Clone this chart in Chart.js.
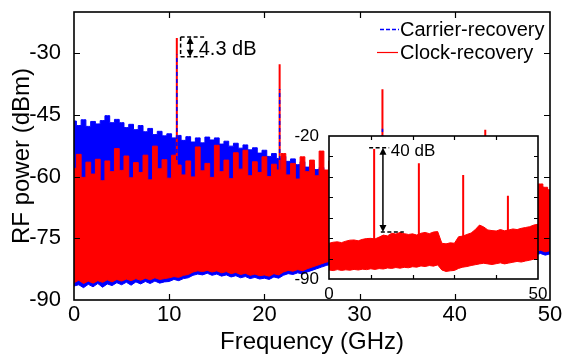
<!DOCTYPE html>
<html>
<head>
<meta charset="utf-8">
<script src="https://cdn.jsdelivr.net/npm/chart.js@4.4.0/dist/chart.umd.min.js"></script>
<style>
  html, body { margin: 0; padding: 0; background: #fff; }
  #wrap { position: relative; width: 566px; height: 354px; }
  #main { position: absolute; left: 0; top: 0; }
  #inset { position: absolute; left: 290px; top: 120px; }
</style>
</head>
<body>
<div id="wrap">
  <canvas id="main" width="566" height="354"></canvas>
  <canvas id="inset" width="260" height="185"></canvas>
</div>
<script>
// main plot, band edges read every 0.5 GHz (0..50)
const blueUpper = [
  -46.5,-47.6,-46.2,-47.8,-46.6,-47.2,-46.4,-45.2,-46.9,-46.1,
  -46.9,-48.1,-47.3,-48.6,-47.6,-49.1,-48.3,-49.8,-49.0,-50.1,
  -49.6,-50.6,-50.0,-51.2,-50.3,-51.6,-50.6,-51.8,-50.4,-51.1,
  -50.6,-52.1,-51.4,-52.6,-51.9,-53.1,-52.3,-53.5,-53.0,-54.3,
  -53.6,-55.1,-54.4,-55.6,-55.1,-56.3,-55.7,-57.1,-56.4,-57.7,
  -57.0,-58.3,-57.8,-59.1,-58.6,-59.5,-59.0,-60.0,-59.5,-60.2,
  -59.8,-60.5,-60.0,-60.8,-60.3,-61.0,-60.5,-61.2,-60.8,-61.4,
  -61.0,-61.5,-61.2,-61.8,-61.3,-62.0,-61.5,-62.0,-61.6,-62.2,
  -61.8,-62.0,-61.5,-62.0,-61.8,-61.5,-61.7,-61.5,-61.3,-61.6,
  -61.2,-61.6,-61.0,-61.4,-61.0,-61.3,-61.5,-62.8,-62.4,-63.0,-63.5
];
const blueLower = [
  -86.6,-86.3,-87.0,-86.2,-86.8,-86.0,-86.9,-86.1,-86.5,-85.8,
  -86.3,-85.7,-86.4,-85.6,-86.1,-85.5,-86.0,-85.4,-85.9,-85.6,
  -85.5,-85.0,-85.3,-84.8,-84.6,-84.0,-83.7,-83.9,-83.5,-84.0,
  -83.7,-84.2,-83.9,-84.4,-84.1,-84.6,-84.3,-84.8,-84.5,-84.9,
  -84.7,-85.0,-84.4,-84.7,-84.0,-83.6,-83.8,-83.4,-83.7,-83.2,
  -82.8,-82.4,-82.0,-81.6,-81.3,-81.7,-81.4,-81.8,-81.5,-81.7,
  -81.3,-81.6,-81.2,-81.4,-81.0,-81.3,-80.9,-81.2,-80.8,-81.1,
  -80.7,-81.0,-80.6,-80.9,-80.5,-80.8,-80.4,-80.7,-80.3,-80.6,
  -80.2,-80.5,-80.1,-80.4,-80.0,-80.3,-79.9,-80.2,-79.8,-80.1,
  -79.7,-80.0,-79.6,-79.9,-79.5,-79.8,-79.4,-79.0,-78.7,-79.1,-78.8
];
const redUpper = [
  -58.0,-54.6,-60.2,-56.5,-59.4,-55.8,-61.0,-56.2,-58.8,-53.2,
  -58.5,-55.0,-60.3,-56.6,-59.0,-54.8,-60.8,-52.6,-58.1,-55.9,
  -60.4,-54.8,-57.2,-59.6,-56.2,-60.1,-52.8,-58.6,-56.8,-60.2,
  -52.4,-58.8,-56.0,-60.5,-54.2,-58.2,-53.6,-59.8,-56.4,-59.0,
  -55.2,-60.0,-57.0,-58.4,-54.4,-59.6,-56.8,-60.6,-55.2,-58.8,
  -56.0,-59.8,-53.8,-58.4,-56.2,-60.5,-59.5,-61.5,-60.2,-61.8,
  -60.5,-62.0,-61.0,-62.2,-61.3,-62.5,-61.5,-62.4,-61.8,-62.6,
  -62.0,-62.8,-62.2,-63.0,-62.4,-63.2,-62.6,-63.0,-62.4,-63.1,
  -62.6,-63.0,-62.4,-62.9,-62.5,-63.0,-62.6,-62.8,-62.3,-62.9,
  -62.5,-62.8,-62.4,-62.7,-62.3,-62.6,-62.2,-62.3,-61.8,-62.6,-63.2
];
const redLower = [
  -85.8,-85.2,-86.0,-85.4,-85.9,-85.3,-85.7,-85.1,-85.6,-85.0,
  -85.4,-84.9,-85.3,-84.8,-85.2,-84.7,-85.1,-84.6,-85.0,-84.8,
  -84.6,-84.3,-84.5,-84.0,-83.8,-83.2,-82.9,-83.1,-82.8,-83.2,
  -82.9,-83.4,-83.1,-83.6,-83.3,-83.8,-83.5,-84.0,-83.7,-84.1,
  -83.9,-84.2,-83.6,-83.9,-83.2,-82.8,-83.0,-82.6,-82.9,-82.4,
  -82.0,-81.6,-81.2,-80.8,-80.5,-80.9,-80.6,-81.0,-80.7,-80.9,
  -80.5,-80.8,-80.4,-80.6,-80.2,-80.5,-80.1,-80.4,-80.0,-80.3,
  -79.9,-80.2,-79.8,-80.1,-79.7,-80.0,-79.6,-79.9,-79.5,-79.8,
  -79.4,-79.7,-79.3,-79.6,-79.2,-79.5,-79.1,-79.4,-79.0,-79.3,
  -78.9,-79.2,-78.8,-79.1,-78.7,-79.0,-78.6,-78.2,-77.9,-78.3,-78.0
];
const mainFreq = redUpper.map((v, i) => i * 0.5);

// tones on top of the noise
const redToneFreq = [10.8, 21.6, 32.4, 43.2];
const redToneTop = [-26.3, -32.7, -38.8, -48.6];
const blueToneFreq = [10.8, 21.6, 32.4];
const blueToneTop = [-30.3, -38.7, -48.4];
const redToneBase = -80;
const blueToneBase = -56;

// inset (clock recovery only), every 1 GHz
const insetUpper = [
  -72.5,-72.0,-71.8,-72.2,-71.5,-71.0,-70.9,-71.3,-70.6,-70.2,
  -70.1,-70.4,-69.5,-68.5,-68.9,-67.6,-68.0,-67.2,-67.8,-68.2,
  -67.9,-68.5,-67.6,-67.2,-67.8,-67.0,-66.8,-72.5,-72.8,-72.3,
  -72.5,-69.3,-69.0,-68.2,-67.5,-65.8,-63.6,-64.5,-66.0,-66.3,
  -66.5,-65.8,-66.4,-66.0,-65.5,-65.8,-65.2,-64.8,-64.4,-63.6,-63.2
];
const insetLower = [
  -85.6,-85.9,-85.4,-85.8,-85.5,-85.7,-85.3,-85.6,-85.2,-85.4,
  -85.0,-85.3,-84.9,-85.1,-84.6,-84.8,-84.4,-84.7,-84.3,-84.5,
  -84.0,-84.2,-83.6,-83.9,-83.4,-83.7,-83.1,-85.6,-86.3,-86.0,
  -85.8,-84.8,-84.2,-83.9,-83.4,-83.0,-82.6,-82.3,-82.6,-82.9,
  -82.5,-82.1,-82.6,-82.2,-81.8,-81.4,-81.7,-81.2,-80.8,-80.3,-79.9
];
const insetFreq = insetUpper.map((v, i) => i);
const insetToneFreq = [10.8, 21.5, 32.1, 42.8];
const insetToneTop = [-26.4, -33.4, -39.1, -49.2];

// ticks
const xTicks = [0, 10, 20, 30, 40, 50];
const yTicks = [-90, -75, -60, -45, -30];
const insetXTicks = [0, 50];
const insetYTicks = [-90, -20];
const insetXMarks = [10, 20, 30, 40];
const insetYMarks = [-30, -40, -50, -60, -70, -80];

const legendLabels = ['Carrier-recovery', 'Clock-recovery'];
const BLUE = '#0000ff';
const RED = '#ff0000';
const FONT = 'Liberation Sans, Arial, sans-serif';

function pts(xs, ys) {
  return xs.map((x, i) => ({ x: x, y: ys[i] }));
}
function tones(xs, tops, base) {
  const out = [];
  xs.forEach((x, i) => {
    out.push({ x: x, y: base }, { x: x, y: tops[i] }, { x: x, y: null });
  });
  return out;
}
// stop Chart.js from reserving room for labels that are not at the ends
function noPad(s) {
  s.paddingTop = 0; s.paddingBottom = 0;
  s.paddingLeft = 0; s.paddingRight = 0;
}

const framePlugin = {
  id: 'frame',
  beforeDraw(chart, args, opts) {
    if (!opts.white) return;
    const a = chart.chartArea, ctx = chart.ctx;
    ctx.save();
    ctx.fillStyle = '#fff';
    ctx.fillRect(a.left, a.top, a.right - a.left, a.bottom - a.top);
    ctx.restore();
  },
  afterDraw(chart, args, opts) {
    const a = chart.chartArea, ctx = chart.ctx;
    const xs = chart.scales.x, ys = chart.scales.y;
    ctx.save();
    ctx.strokeStyle = '#000';
    ctx.lineWidth = 1.2;
    ctx.beginPath();
    opts.xMarks.forEach(v => {
      const px = Math.round(xs.getPixelForValue(v)) + 0.5;
      ctx.moveTo(px, a.bottom); ctx.lineTo(px, a.bottom - opts.len);
      ctx.moveTo(px, a.top); ctx.lineTo(px, a.top + opts.len);
    });
    opts.yMarks.forEach(v => {
      const py = Math.round(ys.getPixelForValue(v)) + 0.5;
      ctx.moveTo(a.left, py); ctx.lineTo(a.left + opts.len, py);
      ctx.moveTo(a.right, py); ctx.lineTo(a.right - opts.len, py);
    });
    ctx.stroke();
    ctx.lineWidth = 1.6;
    ctx.strokeRect(a.left, a.top, a.right - a.left, a.bottom - a.top);
    ctx.restore();
  }
};

function arrowHead(ctx, x, y, dir) {
  ctx.beginPath();
  ctx.moveTo(x, y);
  ctx.lineTo(x - 3.5, y + dir * 7);
  ctx.lineTo(x + 3.5, y + dir * 7);
  ctx.closePath();
  ctx.fill();
}

const notePlugin = {
  id: 'note',
  afterDatasetsDraw(chart, args, o) {
    const ctx = chart.ctx, xs = chart.scales.x, ys = chart.scales.y;
    const yt = ys.getPixelForValue(o.top), yb = ys.getPixelForValue(o.bot);
    const xa = xs.getPixelForValue(o.arrowX);
    ctx.save();
    ctx.strokeStyle = '#000';
    ctx.fillStyle = '#000';
    ctx.lineWidth = 1.5;
    ctx.setLineDash([4, 2.5]);
    ctx.beginPath();
    ctx.moveTo(xs.getPixelForValue(o.topX[0]), yt); ctx.lineTo(xs.getPixelForValue(o.topX[1]), yt);
    ctx.moveTo(xs.getPixelForValue(o.botX[0]), yb); ctx.lineTo(xs.getPixelForValue(o.botX[1]), yb);
    if (o.bracket) {
      const xl = xs.getPixelForValue(o.topX[0]);
      ctx.moveTo(xl, yt); ctx.lineTo(xl, yb);
    }
    ctx.stroke();
    ctx.setLineDash([]);
    ctx.beginPath();
    ctx.moveTo(xa, yt + 5); ctx.lineTo(xa, yb - 5);
    ctx.stroke();
    arrowHead(ctx, xa, yt, 1);
    arrowHead(ctx, xa, yb, -1);
    ctx.font = o.size + 'px ' + FONT;
    ctx.textBaseline = 'middle';
    ctx.textAlign = 'left';
    ctx.fillText(o.text, xs.getPixelForValue(o.textAt[0]), ys.getPixelForValue(o.textAt[1]));
    ctx.restore();
  }
};

const legendPlugin = {
  id: 'keys',
  afterDraw(chart) {
    const ctx = chart.ctx;
    ctx.save();
    ctx.font = '20px ' + FONT;
    ctx.textBaseline = 'middle';
    ctx.fillStyle = '#000';
    ctx.lineWidth = 1.5;
    ctx.strokeStyle = BLUE;
    ctx.setLineDash([4, 2]);
    ctx.beginPath(); ctx.moveTo(380, 29.5); ctx.lineTo(399, 29.5); ctx.stroke();
    ctx.setLineDash([]);
    ctx.strokeStyle = RED;
    ctx.lineWidth = 1.2;
    ctx.beginPath(); ctx.moveTo(377, 52.5); ctx.lineTo(398, 52.5); ctx.stroke();
    ctx.fillText(legendLabels[0], 400, 30);
    ctx.fillText(legendLabels[1], 400, 53);
    ctx.restore();
  }
};

function band(upper, lower, color, xs, step) {
  return [
    { data: pts(xs, upper), borderColor: color, backgroundColor: color, borderWidth: 1, fill: '+1', pointRadius: 0, stepped: step },
    { data: pts(xs, lower), borderColor: color, backgroundColor: color, borderWidth: 1, fill: false, pointRadius: 0 }
  ];
}

new Chart(document.getElementById('main'), {
  type: 'line',
  data: {
    datasets: [
      { data: tones(blueToneFreq, blueToneTop, blueToneBase), borderColor: BLUE, borderWidth: 1.5, borderDash: [4, 3], pointRadius: 0, fill: false, spanGaps: false },
      { data: tones(redToneFreq, redToneTop, redToneBase), borderColor: RED, borderWidth: 2, pointRadius: 0, fill: false, spanGaps: false },
      ...band(redUpper, redLower, RED, mainFreq, 'middle'),
      ...band(blueUpper, blueLower, BLUE, mainFreq, 'middle')
    ]
  },
  plugins: [framePlugin, notePlugin, legendPlugin],
  options: {
    responsive: false,
    animation: false,
    layout: { padding: { left: 0, right: 16, top: 12, bottom: 0 } },
    elements: { line: { tension: 0 } },
    plugins: {
      legend: { display: false },
      tooltip: { enabled: false },
      frame: { xMarks: [10, 20, 30, 40], yMarks: [-75, -60, -45, -30], len: 6 },
      note: {
        topX: [11.2, 13.8], botX: [11.2, 13.8], arrowX: 12.2,
        top: -26.1, bot: -30.9, bracket: true,
        text: '4.3 dB', textAt: [13.1, -29.0], size: 20
      }
    },
    scales: {
      x: {
        type: 'linear', min: 0, max: 50,
        afterBuildTicks: s => { s.ticks = xTicks.map(v => ({ value: v })); },
        afterFit: s => { s.height = 54; noPad(s); },
        grid: { display: false },
        border: { display: false },
        ticks: { color: '#000', font: { family: FONT, size: 22 }, padding: -6, maxRotation: 0 },
        title: { display: true, text: 'Frequency (GHz)', color: '#000', font: { family: FONT, size: 24, lineHeight: 1 }, padding: 0 }
      },
      y: {
        min: -90, max: -20,
        afterBuildTicks: s => { s.ticks = yTicks.map(v => ({ value: v })); },
        afterFit: s => { s.width = 74; noPad(s); },
        grid: { display: false },
        border: { display: false },
        ticks: { color: '#000', font: { family: FONT, size: 22 }, padding: 5 },
        title: { display: true, text: 'RF power (dBm)', color: '#000', font: { family: FONT, size: 24 }, padding: { top: 8, bottom: 0 } }
      }
    }
  }
});

new Chart(document.getElementById('inset'), {
  type: 'line',
  data: {
    datasets: [
      { data: tones(insetToneFreq, insetToneTop, -75), borderColor: RED, borderWidth: 2, pointRadius: 0, fill: false, spanGaps: false },
      ...band(insetUpper, insetLower, RED, insetFreq, false)
    ]
  },
  plugins: [framePlugin, notePlugin],
  options: {
    responsive: false,
    animation: false,
    layout: { padding: { left: 0, right: 12, top: 16, bottom: 0 } },
    elements: { line: { tension: 0 } },
    plugins: {
      legend: { display: false },
      tooltip: { enabled: false },
      frame: { xMarks: insetXMarks, yMarks: insetYMarks, len: 4, white: true },
      note: {
        topX: [9.6, 14.4], botX: [12.4, 17.9], arrowX: 12.9,
        top: -25.7, bot: -67, bracket: false,
        text: '40 dB', textAt: [14.8, -27.7], size: 17
      }
    },
    scales: {
      x: {
        type: 'linear', min: 0, max: 50,
        afterBuildTicks: s => { s.ticks = insetXTicks.map(v => ({ value: v })); },
        afterFit: s => { s.height = 26; noPad(s); },
        grid: { display: false },
        border: { display: false },
        ticks: { color: '#000', font: { family: FONT, size: 17 }, padding: -3, maxRotation: 0 }
      },
      y: {
        min: -90, max: -20,
        afterBuildTicks: s => { s.ticks = insetYTicks.map(v => ({ value: v })); },
        afterFit: s => { s.width = 39; noPad(s); },
        grid: { display: false },
        border: { display: false },
        ticks: { color: '#000', font: { family: FONT, size: 17 }, padding: 2 }
      }
    }
  }
});
</script>
</body>
</html>
